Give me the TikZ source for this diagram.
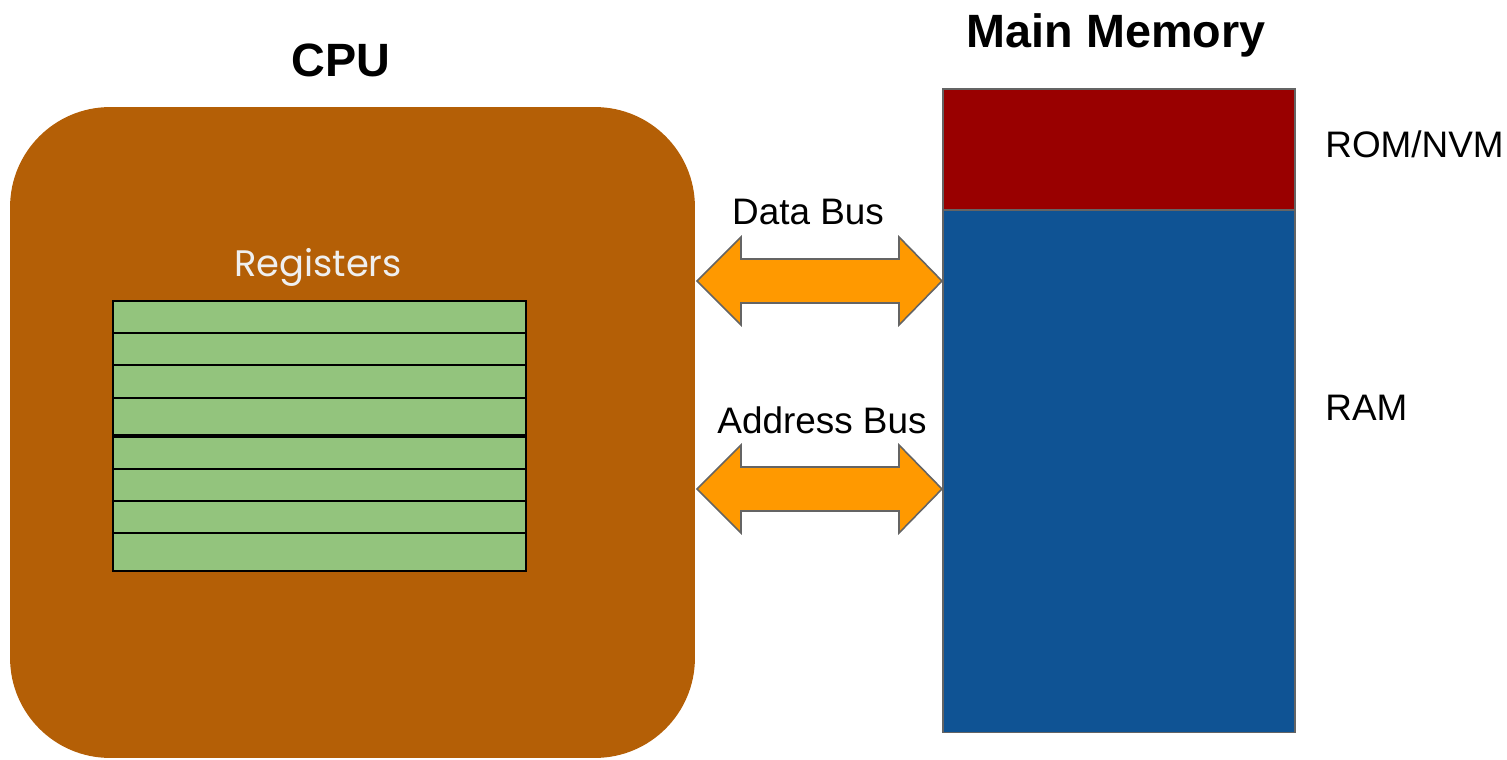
\documentclass[tikz,border=0pt]{standalone}
\usepackage{fontspec}
\setmainfont{Liberation Sans}
\newfontfamily\regfont{Poppins}
\usetikzlibrary{positioning}

\definecolor{cpubrown}{RGB}{180,95,6}
\definecolor{reggreen}{RGB}{147,196,125}
\definecolor{romred}{RGB}{153,0,0}
\definecolor{ramblue}{RGB}{15,83,148}
\definecolor{busorange}{RGB}{255,153,0}
\definecolor{edgegray}{RGB}{100,100,100}

\tikzset{
	title/.style={font=\fontsize{26.6}{30}\selectfont\bfseries,inner sep=0pt,anchor=base},
	buslabel/.style={font=\fontsize{21}{25}\selectfont,inner sep=0pt,anchor=base},
	regrow/.style={draw=black,fill=reggreen,line width=1.1pt,minimum width=8.26cm,inner sep=0pt,anchor=north},
	mem/.style={draw=edgegray,line width=0.9pt,minimum width=7.04cm,inner sep=0pt,anchor=north},
	bus/.style={draw=edgegray,fill=busorange,line width=0.9pt,line join=miter}
}

\begin{document}
\begin{tikzpicture}[x=0.02cm,y=-0.02cm]
	\useasboundingbox (0,0) rectangle (1507,760);

	\node[fill=cpubrown,rounded corners=2cm,minimum width=13.7cm,minimum height=13.02cm,inner sep=0pt](cpu) at (352.5,432.5) {};
	\node[title](cputitle) at (341,77) {CPU};
	\node[font=\regfont\fontsize{21}{24}\selectfont,text={rgb,255:red,239;green,239;blue,239},inner sep=0pt,anchor=base](regs) at (318,276) {Registers};

	\foreach \t/\b [count=\i] in {300/332,332/364,364/397,397/434,436/468,468/500,500/532,532/570}
		\node[regrow,minimum height={(\b-\t)*0.02cm}](reg\i) at (319.5,\t) {};

	\node[mem,fill=romred,minimum height=2.42cm](rom) at (1119,88) {};
	\node[mem,fill=ramblue,minimum height=10.46cm](ram) at (1119,209) {};
	\node[title](memtitle) at (1116,48) {Main Memory};
	\node[buslabel,anchor=base west](romlabel) at (1325,158) {ROM/NVM};
	\node[buslabel,anchor=base west](ramlabel) at (1325,420) {RAM};

	\foreach \y in {281,489}
		\draw[bus] (697,\y) -- ++(44,-44) -- ++(0,22) -- ++(158,0) -- ++(0,-22) -- ++(43,44) -- ++(-43,44) -- ++(0,-22) -- ++(-158,0) -- ++(0,22) -- cycle;
	\node[buslabel](databus) at (808,225) {Data Bus};
	\node[buslabel](addrbus) at (822,433) {Address Bus};
\end{tikzpicture}
\end{document}
